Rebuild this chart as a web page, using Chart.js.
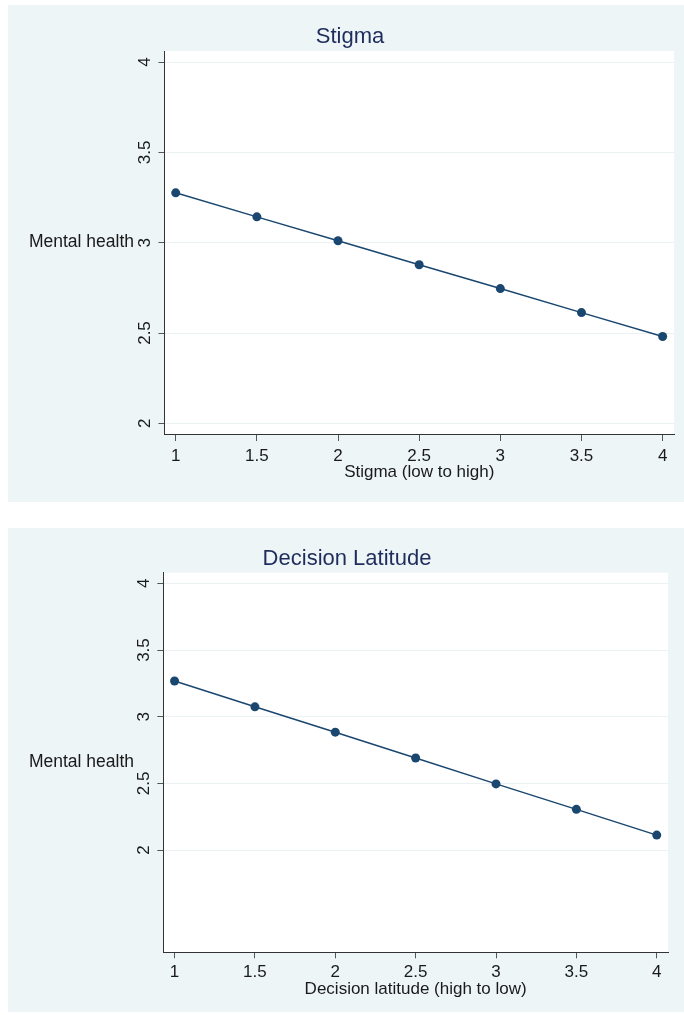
<!DOCTYPE html>
<html>
<head>
<meta charset="utf-8">
<script src="https://cdn.jsdelivr.net/npm/chart.js@4"></script>
<style>
  html, body { margin: 0; padding: 0; background: #ffffff; width: 684px; height: 1015px; overflow: hidden; }
  .panel { position: absolute; left: 8px; background: #EDF5F7; }
  #p1 { top: 5px; width: 676px; height: 497px; }
  #p2 { top: 528px; width: 676px; height: 484px; }
  canvas { display: block; }
</style>
</head>
<body>
<div class="panel" id="p1"><canvas id="c1" width="676" height="497"></canvas></div>
<div class="panel" id="p2"><canvas id="c2" width="676" height="484"></canvas></div>
<script>
// ---- data ----
const xValues = [1, 1.5, 2, 2.5, 3, 3.5, 4];
const stigmaMH = [3.276, 3.143, 3.011, 2.878, 2.746, 2.613, 2.481];
const latitudeMH = [3.268, 3.074, 2.884, 2.690, 2.496, 2.305, 2.112];
const xTicks = [1, 1.5, 2, 2.5, 3, 3.5, 4];
const yTicks = [2, 2.5, 3, 3.5, 4];
const titles = ['Stigma', 'Decision Latitude'];
const xTitles = ['Stigma (low to high)', 'Decision latitude (high to low)'];
const yTitle = 'Mental health';

const FONT = "'Liberation Sans', Arial, Helvetica, sans-serif";
const NAVY = '#1a476f';

const plotBg = {
  id: 'plotBg',
  beforeDraw(chart) {
    const a = chart.chartArea, ctx = chart.ctx;
    ctx.save();
    ctx.fillStyle = '#ffffff';
    ctx.fillRect(a.left, a.top, a.right - a.left, a.bottom - a.top);
    ctx.restore();
  },
  afterDraw(chart) {
    const a = chart.chartArea, ctx = chart.ctx;
    ctx.save();
    ctx.font = '17.5px ' + FONT;
    ctx.fillStyle = '#1a1a1a';
    ctx.textAlign = 'right';
    ctx.textBaseline = 'middle';
    ctx.fillText(yTitle, chart.options.plugins.plotBg.labelRight, (a.top + a.bottom) / 2);
    ctx.restore();
  }
};

function makeChart(id, yVals, cfg) {
  return new Chart(document.getElementById(id), {
    type: 'line',
    data: {
      datasets: [{
        data: xValues.map((x, i) => ({ x: x, y: yVals[i] })),
        borderColor: NAVY,
        backgroundColor: NAVY,
        borderWidth: 1.5,
        pointRadius: 4.5,
        pointBorderWidth: 0,
        pointBackgroundColor: NAVY,
        tension: 0,
        fill: false
      }]
    },
    options: {
      responsive: false,
      animation: false,
      devicePixelRatio: 1,
      layout: { padding: { left: cfg.padLeft, right: cfg.padRight, top: 0, bottom: 0 } },
      plugins: {
        legend: { display: false },
        tooltip: { enabled: false },
        title: {
          display: true,
          text: cfg.title,
          color: '#1f2d5c',
          font: { family: FONT, size: 22, weight: 'normal' },
          padding: { top: cfg.titleTop, bottom: cfg.titleBottom }
        },
        plotBg: { labelRight: 126 }
      },
      scales: {
        x: {
          type: 'linear',
          min: cfg.xMin, max: cfg.xMax,
          afterBuildTicks: s => { s.ticks = xTicks.map(v => ({ value: v })); },
          afterFit: s => { s.height = cfg.xHeight; },
          grid: { drawOnChartArea: false, drawTicks: true, tickLength: cfg.xTick, tickColor: '#555', tickWidth: 1 },
          border: { display: true, color: '#333', width: 1 },
          ticks: { color: '#1a1a1a', font: { family: FONT, size: 17 }, padding: cfg.xPad, maxRotation: 0, minRotation: 0,
                   callback: v => String(v) },
          title: { display: true, text: cfg.xTitle, color: '#1a1a1a', font: { family: FONT, size: 17 },
                   padding: { top: 0, bottom: cfg.xTitleBottom } }
        },
        y: {
          type: 'linear',
          min: cfg.yMin, max: cfg.yMax,
          afterBuildTicks: s => { s.ticks = yTicks.map(v => ({ value: v })); },
          afterFit: s => { s.width = cfg.yWidth; },
          grid: { drawOnChartArea: true, color: '#EAF2F3', lineWidth: 1, drawTicks: true, tickLength: 6, tickColor: '#555', tickWidth: 1 },
          border: { display: true, color: '#333', width: 1 },
          ticks: { color: '#1a1a1a', font: { family: FONT, size: 17 }, padding: 1.5, minRotation: 90, maxRotation: 90,
                   crossAlign: 'center', callback: v => String(v) }
        }
      }
    },
    plugins: [plotBg]
  });
}

makeChart('c1', stigmaMH, {
  title: titles[0], xTitle: xTitles[0],
  padLeft: 18, padRight: 10, titleTop: 18.3, titleBottom: 1.3,
  xMin: 0.931, xMax: 4.07, yMin: 1.941, yMax: 4.061,
  xHeight: 68, xTick: 7, xPad: 5, xTitleBottom: 19.5, yWidth: 138.5
});
makeChart('c2', latitudeMH, {
  title: titles[1], xTitle: xTitles[1],
  padLeft: 18, padRight: 16, titleTop: 17.3, titleBottom: 1,
  xMin: 0.93, xMax: 4.07, yMin: 1.233, yMax: 4.08,
  xHeight: 59.7, xTick: 6, xPad: 4, xTitleBottom: 12.5, yWidth: 137.3
});
</script>
</body>
</html>
